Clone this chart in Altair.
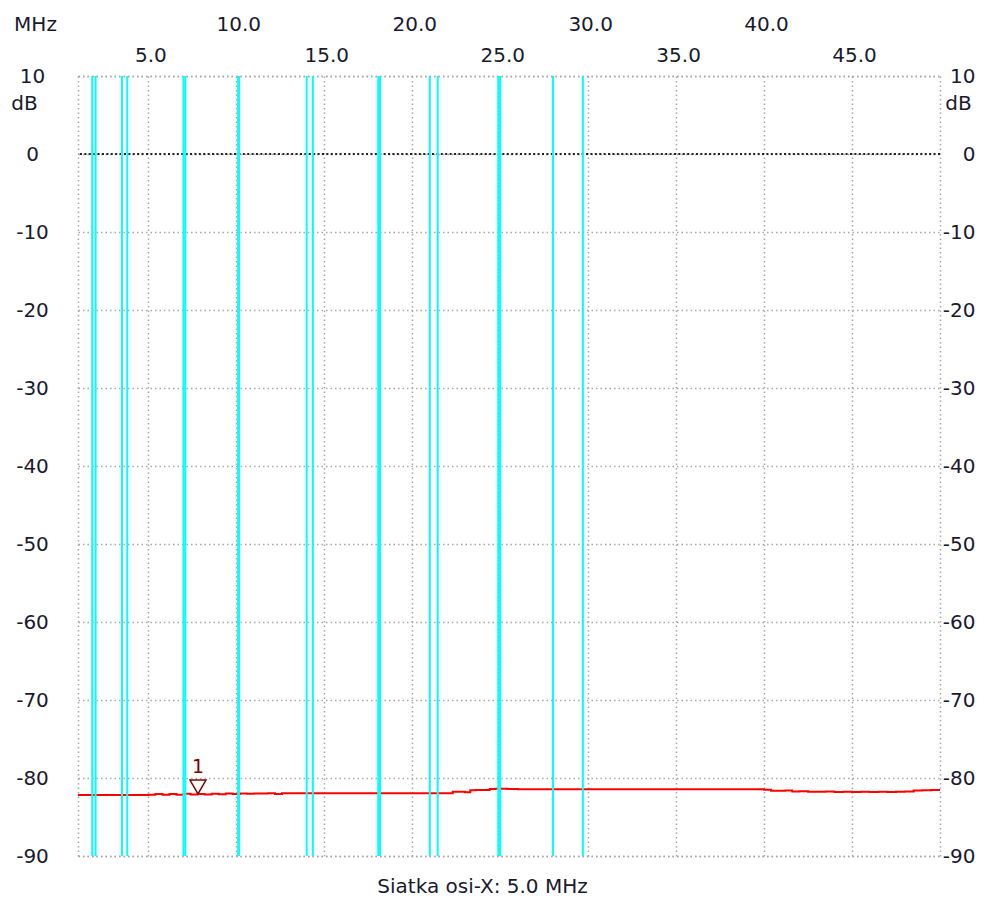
import altair as alt
import pandas as pd

# ---- data ----
trace_freq = [1.0, 2.0, 3.0, 4.0, 5.0, 5.4, 5.8, 6.2, 6.6, 7.0, 7.4, 7.8, 8.2, 8.6,
              9.0, 9.4, 9.8, 10.2, 10.6, 11.0, 11.4, 11.8, 12.2, 12.6, 13.0, 14.0,
              16.0, 18.0, 20.0, 22.0, 22.3, 22.6, 23.0, 23.3, 23.6, 24.0, 24.4, 24.7,
              25.0, 25.4, 26.0, 28.0, 30.0, 33.0, 36.0, 39.0, 40.0, 40.4, 40.8, 41.2,
              41.6, 42.0, 42.5, 43.0, 43.5, 44.0, 44.5, 45.0, 45.5, 46.0, 46.5, 47.0,
              47.5, 48.0, 48.5, 49.0, 49.5, 50.0]
trace_db = [-82.18, -82.18, -82.18, -82.17, -82.16, -82.05, -82.15, -82.05, -82.14, -82.03,
            -82.12, -82.05, -82.1, -82.02, -82.08, -82.0, -82.05, -82.0, -82.02, -81.98,
            -82.0, -81.97, -82.05, -81.97, -81.97, -81.97, -81.96, -81.96, -81.96, -81.96,
            -81.75, -81.75, -81.82, -81.58, -81.55, -81.55, -81.4, -81.38, -81.38, -81.42,
            -81.45, -81.45, -81.45, -81.45, -81.45, -81.45, -81.52, -81.62, -81.65, -81.6,
            -81.72, -81.7, -81.75, -81.75, -81.72, -81.78, -81.76, -81.8, -81.75, -81.78,
            -81.76, -81.8, -81.75, -81.72, -81.6, -81.58, -81.55, -81.55]

band_edges = [1.81, 2.0, 3.5, 3.8, 7.0, 7.1, 10.1, 10.15, 14.0, 14.35,
              18.068, 18.168, 21.0, 21.45, 24.89, 24.99, 28.0, 29.7]

marker_freq = [7.82]
marker_db = [-82.05]
marker_label = ["1"]

x_ticks = [5, 10, 15, 20, 25, 30, 35, 40, 45]
y_ticks = [-90, -80, -70, -60, -50, -40, -30, -20, -10, 0, 10]
zero_level = [0]

trace_df = pd.DataFrame({"f": trace_freq, "db": trace_db})
band_df = pd.DataFrame({"f": band_edges})
marker_df = pd.DataFrame({"f": marker_freq, "db": marker_db, "label": marker_label})
zero_df = pd.DataFrame({"db": zero_level})

FONT = "DejaVu Sans"
FS = 20
TXT = "#1a1a2e"
GRID = "#a8a8a8"
DOTS = [1.5, 3]

xscale = alt.Scale(domain=[1, 50], nice=False, zero=False)
yscale = alt.Scale(domain=[-90, 10], nice=False, zero=False)

common_axis = dict(
    labelFont=FONT, labelFontSize=FS, labelColor=TXT,
    titleFont=FONT, titleFontSize=FS, titleColor=TXT, titleFontWeight="normal",
    ticks=False, tickSize=0, domainColor=GRID, domainDash=DOTS, domainWidth=1.5,
    gridColor=GRID, gridDash=DOTS, gridWidth=1.5, labelFlush=False, labelOverlap=False,
)

# top axis (with staggered labels) + left axis on the trace layer
trace = alt.Chart(trace_df).mark_line(color="#ff0000", strokeWidth=2, interpolate="step-after").encode(
    x=alt.X("f:Q", scale=xscale, axis=alt.Axis(
        orient="top", values=x_ticks, format=".1f", grid=True,
        labelAlign="center", labelBaseline="middle", labelOffset=2,
        labelPadding={"condition": {"test": "datum.value % 10 === 0", "value": 52}, "value": 21},
        title="MHz", titleX=-43, titleY=-52, titleAngle=0, titleAlign="center",
        titleBaseline="middle", **common_axis)),
    y=alt.Y("db:Q", scale=yscale, axis=alt.Axis(
        orient="left", values=y_ticks, grid=True, labelExpr="toString(datum.value)",
        labelAlign="center", labelBaseline="middle", labelPadding=46,
        title="dB", titleX=-54, titleY=27, titleAngle=0, titleAlign="center",
        titleBaseline="middle", **common_axis)),
)

# zero-dB dotted line, carrying the right axis
zero = alt.Chart(zero_df).mark_rule(color="#222222", strokeWidth=2, strokeDash=[2, 2.4]).encode(
    y=alt.Y("db:Q", scale=yscale, axis=alt.Axis(
        orient="right", values=y_ticks, grid=False, labelExpr="toString(datum.value)",
        labelAlign="right", labelBaseline="middle", labelPadding=35,
        title="dB", titleX=18, titleY=27, titleAngle=0, titleAlign="center",
        titleBaseline="middle", **common_axis)),
)

# cyan band-edge lines, carrying the bottom axis title
bands = alt.Chart(band_df).mark_rule(color="#00ffff", strokeWidth=2).encode(
    x=alt.X("f:Q", scale=xscale, axis=alt.Axis(
        orient="bottom", labels=False, grid=False,
        title="Siatka osi-X: 5.0 MHz", titleX=404, titleY=30, titleAngle=0,
        titleAlign="center", titleBaseline="middle", **common_axis)),
)

marker = alt.Chart(marker_df).mark_point(
    shape="triangle-down", filled=False, size=256, color="#800000", strokeWidth=1.5, opacity=1
).encode(
    x=alt.X("f:Q", scale=xscale, axis=None),
    y=alt.Y("db:Q", scale=yscale, axis=None),
    yOffset=alt.value(-7),
)

marker_text = alt.Chart(marker_df).mark_text(
    font=FONT, fontSize=19, color="#800000", dy=-27, align="center", baseline="middle"
).encode(
    x=alt.X("f:Q", scale=xscale, axis=None),
    y=alt.Y("db:Q", scale=yscale, axis=None),
    text="label:N",
)

chart = alt.layer(zero, trace, bands, marker, marker_text).resolve_axis(
    x="independent", y="independent"
).properties(
    width=862, height=780,
    padding={"left": 70, "top": 68, "right": 36, "bottom": 40},
    autosize=alt.AutoSizeParams(type="none"),
    background="white",
).configure_view(stroke=None)

chart.save("out.html", embed_options={"renderer": "svg", "actions": False})
